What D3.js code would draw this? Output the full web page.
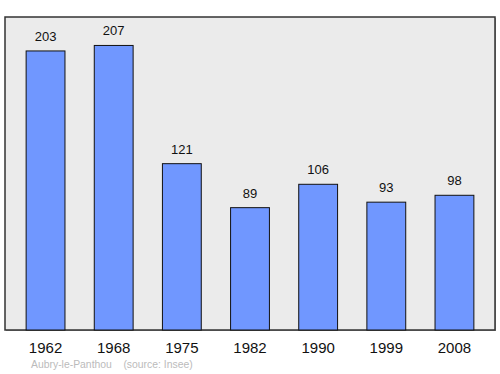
<!DOCTYPE html>
<html>
<head>
<meta charset="utf-8">
<script src="https://cdn.jsdelivr.net/npm/d3@7"></script>
<style>
  body { margin: 0; background: #fff; }
  text { font-family: "Liberation Sans", Arial, sans-serif; }
</style>
</head>
<body>
<div id="chart"></div>
<script>
const years = ["1962", "1968", "1975", "1982", "1990", "1999", "2008"];
const population = [203, 207, 121, 89, 106, 93, 98];
const commune = "Aubry-le-Panthou";
const source = "(source: Insee)";

const width = 500;
const height = 374;
const frame = { left: 5, top: 17, right: 495, bottom: 330 };

const svg = d3.select("#chart")
  .append("svg")
  .attr("width", width)
  .attr("height", height);

// plot background with a faint shadow
svg.append("rect")
  .attr("x", frame.left + 1)
  .attr("y", frame.top + 1)
  .attr("width", frame.right - frame.left)
  .attr("height", frame.bottom - frame.top)
  .attr("fill", "#999");

svg.append("rect")
  .attr("x", frame.left)
  .attr("y", frame.top)
  .attr("width", frame.right - frame.left)
  .attr("height", frame.bottom - frame.top)
  .attr("fill", "#ebebeb")
  .attr("stroke", "#333")
  .attr("stroke-width", 1.5);

const x = d3.scaleBand()
  .domain(years)
  .range([frame.left, frame.right])
  .paddingInner(0.43)
  .paddingOuter(0.31);

const y = d3.scaleLinear()
  .domain([0, d3.max(population) * 1.1])
  .range([frame.bottom, frame.top]);

const data = years.map((yr, i) => ({ year: yr, value: population[i] }));

svg.append("g")
  .selectAll("rect")
  .data(data)
  .join("rect")
  .attr("x", d => x(d.year))
  .attr("y", d => y(d.value))
  .attr("width", x.bandwidth())
  .attr("height", d => y(0) - y(d.value))
  .attr("fill", "#7097ff")
  .attr("stroke", "#111")
  .attr("stroke-width", 1);

svg.append("g")
  .selectAll("text")
  .data(data)
  .join("text")
  .attr("x", d => x(d.year) + x.bandwidth() / 2)
  .attr("y", d => y(d.value) - 10)
  .attr("text-anchor", "middle")
  .attr("font-size", 13)
  .attr("fill", "#111")
  .text(d => d.value);

// year labels
const xAxis = d3.axisBottom(x).tickSize(0).tickPadding(0);
const gx = svg.append("g")
  .attr("transform", `translate(0, ${frame.bottom + 23})`)
  .call(xAxis);
gx.select(".domain").remove();
gx.selectAll("text")
  .attr("font-family", "Liberation Sans, Arial, sans-serif")
  .attr("font-size", 15)
  .attr("fill", "#111")
  .attr("dy", "0");

svg.append("text")
  .attr("x", 31)
  .attr("y", 368)
  .attr("font-size", 10.4)
  .attr("fill", "#bbb")
  .attr("xml:space", "preserve")
  .text(commune + "    " + source);
</script>
</body>
</html>
